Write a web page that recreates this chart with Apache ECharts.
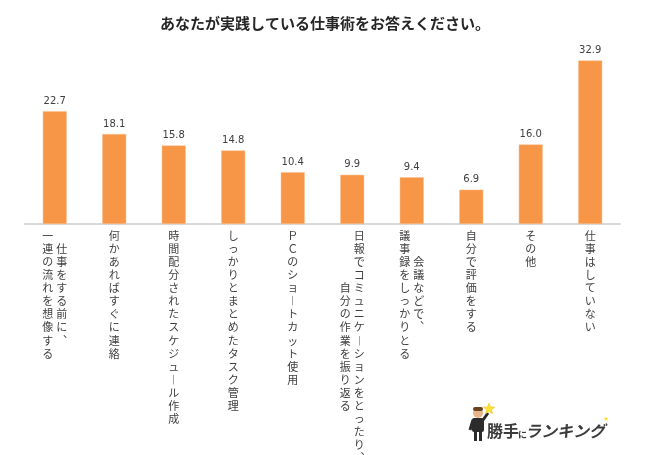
<!DOCTYPE html>
<html>
<head>
<meta charset="utf-8">
<script src="https://cdn.jsdelivr.net/npm/echarts@6/dist/echarts.min.js"></script>
<style>html,body{margin:0;padding:0;background:#fff;}#c{width:650px;height:455px;}</style>
</head>
<body>
<div id="c"></div>
<script>
// ---- data ----
var titleText = 'あなたが実践している仕事術をお答えください。';
// first (right-hand) line of each vertical label
var labelLine1 = [
  '仕事をする前に、',
  '何かあればすぐに連絡',
  '時間配分されたスケジュール作成',
  'しっかりとまとめたタスク管理',
  'ＰＣのショートカット使用',
  '日報でコミュニケーションをとったり、',
  '会議などで、',
  '自分で評価をする',
  'その他',
  '仕事はしていない'
];
// second (left-hand) line of each vertical label
var labelLine2 = [
  '一連の流れを想像する',
  '', '', '', '',
  '自分の作業を振り返る',
  '議事録をしっかりとる',
  '', '', ''
];
var values = [22.7, 18.1, 15.8, 14.8, 10.4, 9.9, 9.4, 6.9, 16.0, 32.9];
var categories = labelLine1.map(function (s, i) { return s + labelLine2[i]; });

// ---- helpers: build vertical (tategaki-like) label text ----
function vform(ch) {
  if (ch === 'ー') return '︱';
  if (ch === '、') return '︑';
  return ch;
}
function verticalLabel(idx) {
  var a = Array.from(labelLine1[idx]);   // right column
  var b = Array.from(labelLine2[idx]);   // left column
  if (!b.length) {
    return a.map(function (c) { return '{s|' + vform(c) + '}'; }).join('\n');
  }
  var n = Math.max(a.length, b.length);
  var offA = Math.round((n - a.length) / 2);
  var offB = Math.round((n - b.length) / 2);
  var rows = [];
  for (var r = 0; r < n; r++) {
    var ca = a[r - offA], cb = b[r - offB];
    rows.push('{c|' + (cb ? vform(cb) : '　') + '}{c|' + (ca ? vform(ca) : '　') + '}');
  }
  return rows.join('\n');
}

function starPoints(cx, cy, R, r) {
  var pts = [];
  for (var i = 0; i < 10; i++) {
    var ang = -Math.PI / 2 + i * Math.PI / 5;
    var rad = i % 2 === 0 ? R : r;
    pts.push([cx + rad * Math.cos(ang), cy + rad * Math.sin(ang)]);
  }
  return pts;
}

var chart = echarts.init(document.getElementById('c'), null, { renderer: 'canvas' });
var jp = '"Noto Sans CJK JP", "Noto Sans", sans-serif';
var lblStyle = { fontSize: 11, lineHeight: 13.1, width: 14, align: 'center', color: '#404040', fontFamily: jp };

chart.setOption({
  backgroundColor: '#ffffff',
  animation: false,
  title: {
    text: titleText,
    left: 'center',
    top: 11,
    textStyle: { fontSize: 15, fontWeight: 'bold', color: '#262626', fontFamily: jp }
  },
  grid: { left: 25, right: 30, top: 50, bottom: 231, containLabel: false, outerBoundsMode: 'none' },
  xAxis: {
    type: 'category',
    data: categories,
    axisLine: { show: true, lineStyle: { color: '#D9D9D9', width: 2 } },
    axisTick: { show: false },
    splitLine: { show: false },
    axisLabel: {
      interval: 0,
      margin: 5,
      formatter: function (v, i) { return verticalLabel(i); },
      rich: { c: lblStyle, s: lblStyle }
    }
  },
  yAxis: {
    type: 'value', min: 0, max: 35, show: false,
    splitLine: { show: false }
  },
  series: [{
    type: 'bar',
    data: values,
    barWidth: 24,
    itemStyle: { color: '#F79646', borderColor: '#FAC090', borderWidth: 0.5 },
    label: {
      show: true, position: 'top', distance: 5,
      formatter: function (p) { return p.value.toFixed(1); },
      fontSize: 10, color: '#404040', fontFamily: '"DejaVu Sans", sans-serif'
    }
  }],
  graphic: [
    // logo: figure
    { type: 'rect', shape: { x: 472, y: 418, width: 12, height: 14, r: 2 }, style: { fill: '#2b2b2b' } },
    { type: 'rect', shape: { x: 474, y: 431, width: 3, height: 10 }, style: { fill: '#2b2b2b' } },
    { type: 'rect', shape: { x: 479, y: 431, width: 3, height: 10 }, style: { fill: '#2b2b2b' } },
    { type: 'line', shape: { x1: 483, y1: 420, x2: 488, y2: 413 }, style: { stroke: '#2b2b2b', lineWidth: 3 } },
    { type: 'line', shape: { x1: 473, y1: 420, x2: 470, y2: 430 }, style: { stroke: '#2b2b2b', lineWidth: 3 } },
    { type: 'circle', shape: { cx: 478, cy: 413, r: 5 }, style: { fill: '#E8B48A' } },
    { type: 'rect', shape: { x: 473, y: 407, width: 10, height: 4, r: 2 }, style: { fill: '#6b4320' } },
    { type: 'polygon', shape: { points: starPoints(489, 409, 6, 2.6) }, style: { fill: '#FFE03A', stroke: '#E8B800', lineWidth: 0.5 } },
    { type: 'polygon', shape: { points: starPoints(606, 419, 2.5, 1.1) }, style: { fill: '#FFE03A' } },
    // logo: text
    { type: 'text', x: 487, y: 431, style: { text: '勝手', fontSize: 16, fontWeight: 'bold', fill: '#3c3c3c', fontFamily: jp, verticalAlign: 'middle' } },
    { type: 'text', x: 518, y: 435, style: { text: 'に', fontSize: 9, fontWeight: 'bold', fill: '#3c3c3c', fontFamily: jp, verticalAlign: 'middle' } },
    { type: 'text', x: 525, y: 431, style: { text: 'ランキング', fontSize: 16, fontWeight: 'bold', fontStyle: 'italic', fill: '#3c3c3c', fontFamily: jp, verticalAlign: 'middle' } }
  ]
});
</script>
</body>
</html>
